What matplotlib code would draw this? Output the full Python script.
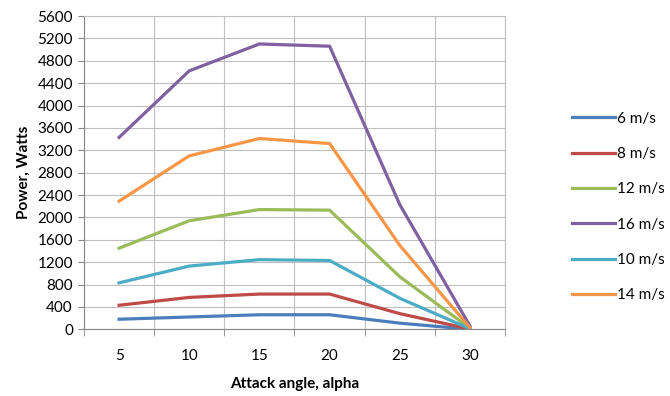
import matplotlib
matplotlib.use("Agg")
import matplotlib.pyplot as plt
import numpy as np

plt.rcParams['font.family'] = ['Lato', 'DejaVu Sans']

angles = ['5', '10', '15', '20', '25', '30']
series_names = ['6 m/s', '8 m/s', '12 m/s', '16 m/s', '10 m/s', '14 m/s']
p6 = [180, 220, 260, 260, 110, 0]
p8 = [430, 570, 630, 630, 280, 5]
p12 = [1450, 1940, 2140, 2130, 940, 20]
p16 = [3430, 4620, 5100, 5060, 2230, 60]
p10 = [830, 1130, 1245, 1230, 555, 10]
p14 = [2290, 3100, 3410, 3320, 1500, 30]
colors = ['#4A7EBB', '#BE4B48', '#9BBB59', '#7F60A0', '#4BACC6', '#F79646']

fig = plt.figure(figsize=(6.7, 3.96), dpi=100)
ax = fig.add_axes([84/670, 1-329.3/396, (505-84)/670, (329.3-16)/396])

x = np.arange(len(angles))
for name, vals, c in zip(series_names, [p6, p8, p12, p16, p10, p14], colors):
    ax.plot(x, vals, color=c, linewidth=2.3, label=name, solid_joinstyle='miter')

ax.set_xlim(-0.5, len(angles) - 0.5)
ax.set_ylim(0, 5600)
ax.set_yticks(np.arange(0, 5601, 400))
ax.set_xticks(x)
ax.set_xticklabels(angles)
ax.set_xticks(np.arange(-0.5, len(angles)), minor=True)
ax.tick_params(axis='x', which='major', length=0, pad=14, labelsize=11)
ax.tick_params(axis='x', which='minor', length=5, color='#868686', direction='out')
ax.tick_params(axis='y', length=4, color='#868686', labelsize=11, pad=4)
ax.grid(True, axis='y', color='#BFBFBF', linewidth=0.8)
ax.grid(True, axis='x', which='minor', color='#BFBFBF', linewidth=0.8)
for s in ['top', 'right']:
    ax.spines[s].set_color('#BFBFBF')
    ax.spines[s].set_linewidth(0.8)
for s in ['left', 'bottom']:
    ax.spines[s].set_color('#868686')
    ax.spines[s].set_linewidth(0.8)
ax.set_axisbelow(True)

ax.set_xlabel('Attack angle, alpha', fontsize=11, fontweight='bold', labelpad=10)
ax.set_ylabel('Power, Watts', fontsize=11, fontweight='bold', labelpad=5)

fig.legend(loc='center left', bbox_to_anchor=(558/670, 1-207/396), frameon=False,
           fontsize=11, handlelength=2.8, handletextpad=0.15, labelspacing=1.4)

fig.savefig('out.png', dpi=100)
